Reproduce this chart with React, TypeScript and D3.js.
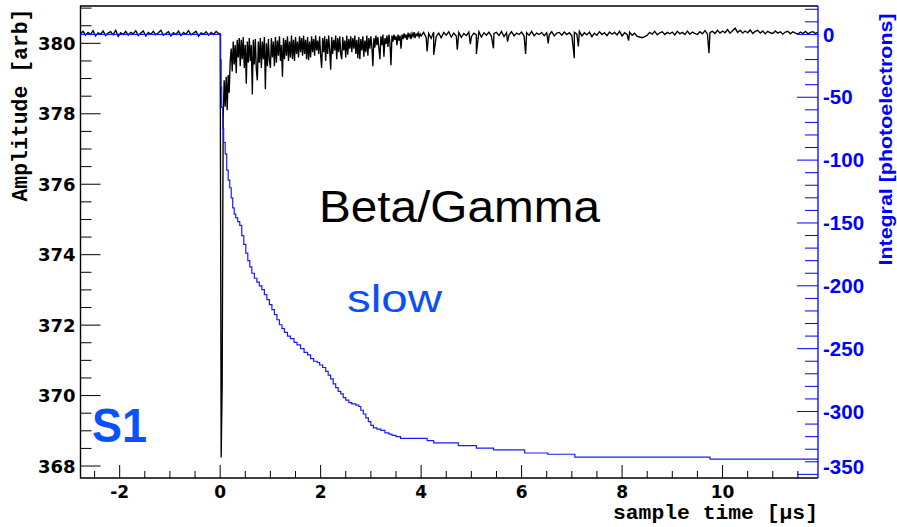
import React from 'react';
import * as d3 from 'd3';

const W = 897;
const H = 527;
const FRAME = { left: 80.5, right: 818, top: 6, bottom: 478 };

const timeDomain = [-2.78, 11.9];
const ampDomain = [367.66, 381.06];
const integralDomain = [-352.9, 22.6];

const timeTicks = [-2, 0, 2, 4, 6, 8, 10];
const ampTicks = [368, 370, 372, 374, 376, 378, 380];
const integralTicks = [-350, -300, -250, -200, -150, -100, -50, 0];

// Waveform (amplitude, arb) — pre-trigger samples, 0.05 us apart
const preT0 = -2.78;
const preDt = 0.05;
const preAmp = [
  380.28, 380.34, 380.23, 380.31, 380.25, 380.36, 380.21, 380.3, 380.26, 380.35,
  380.22, 380.29, 380.33, 380.24, 380.37, 380.2, 380.3, 380.25, 380.34, 380.23,
  380.31, 380.27, 380.36, 380.22, 380.29, 380.35, 380.21, 380.31, 380.26, 380.34,
  380.24, 380.3, 380.37, 380.23, 380.28, 380.33, 380.21, 380.3, 380.25, 380.35,
  380.22, 380.31, 380.26, 380.36, 380.24, 380.29, 380.34, 380.2, 380.3, 380.26,
  380.33, 380.23, 380.31, 380.25, 380.34, 380.28,
];

// Pulse region samples, 0.02 us apart from t = 0
const pulseT0 = 0;
const pulseDt = 0.02;
const pulseAmp = [
  380.27, 368.24, 370.3, 377.9, 378.95, 378.2, 379.05, 378.1, 379.1, 378.6,
  379.5, 379.85, 379.2, 380.05, 379.4, 379.95, 379.15, 380.1, 379.6, 380.15,
  379.35, 380.1, 379.55, 380.18, 379.3, 379.95, 378.85, 380.05, 379.45, 380.15,
  379.5, 379.95, 378.55, 380.1, 379.4, 380.12, 379.25, 378.95, 380.05, 379.45,
  380.15, 379.3, 380.05, 379.55, 380.18, 378.7, 380.0, 379.35, 380.12, 379.5,
  379.3, 380.15, 379.6, 380.05, 379.35, 380.18, 379.45, 380.08, 379.65, 380.2,
  379.5, 379.95, 379.05, 380.15, 379.55, 380.1, 379.65, 380.2, 379.5, 380.05,
  379.6, 380.22, 379.55, 380.1, 379.5, 380.18, 379.7, 380.05, 379.6, 380.2,
  379.75, 380.15, 379.65, 380.22, 379.7, 380.1, 379.55, 380.18, 379.52, 380.05,
  379.6, 380.2, 379.75, 380.12, 379.65, 380.22, 379.8, 380.08, 379.7, 380.2,
  379.65, 379.3, 380.15, 379.75, 380.2, 379.5, 380.12, 379.7, 380.22, 379.8,
  379.25, 380.18, 379.7, 380.1, 379.8, 380.22, 379.55, 380.15, 379.75, 380.2,
  379.7, 379.55, 380.18, 379.8, 380.08, 379.6, 380.22, 379.68, 380.12, 379.85,
  380.2, 379.75, 380.15, 379.85, 380.22, 379.7, 380.1, 379.58, 380.18, 379.55,
  380.12, 379.8, 380.2, 379.62, 380.08, 379.75, 380.22, 379.65, 380.15, 379.85,
  380.2, 379.9, 379.35, 380.15, 379.88, 380.22, 379.95, 380.18, 379.85, 379.55,
  380.2, 379.95, 380.25, 379.62, 380.15, 379.98, 380.22, 379.9, 380.25, 380.0,
  379.38, 380.22, 380.05, 380.25, 380.1, 380.2, 379.95, 380.25, 380.08, 380.22,
  379.85, 380.25, 380.12, 380.28, 380.15, 380.25, 380.1, 380.3, 380.18, 380.26,
  380.12, 380.28, 380.2, 380.32, 380.15, 380.26, 380.22, 380.3, 380.18, 380.27,
];

// Tail baseline samples, 0.05 us apart from t = 4
const tailT0 = 4.0;
const tailDt = 0.05;
const tailAmp = [
  380.21, 380.31, 380.17, 380.28, 380.14, 380.32, 380.19, 380.29, 380.16, 380.31,
  380.23, 380.33, 380.18, 380.29, 380.21, 380.31, 380.17, 380.28, 380.22, 380.32,
  380.19, 380.29, 380.24, 380.33, 380.18, 380.3, 380.23, 380.32, 380.2, 380.28,
  380.31, 380.22, 380.34, 380.19, 380.3, 380.24, 380.33, 380.21, 380.29, 380.25,
  380.32, 380.2, 380.3, 380.23, 380.34, 380.21, 380.29, 380.25, 380.31, 380.22,
  380.3, 380.24, 380.33, 380.21, 380.29, 380.31, 380.23, 380.32, 380.25, 380.3,
  380.22, 380.31, 380.26, 380.34, 380.21, 380.3, 380.24, 380.32, 380.19, 380.29,
  380.23, 380.33, 380.25, 380.3, 380.22, 380.32, 380.26, 380.31, 380.24, 380.34,
  380.21, 380.3, 380.25, 380.32, 380.23, 380.29, 380.2, 380.18, 380.16, 380.19,
  380.23, 380.31, 380.26, 380.34, 380.24, 380.3, 380.33, 380.25, 380.31, 380.27,
  380.32, 380.24, 380.34, 380.27, 380.31, 380.25, 380.35, 380.26, 380.32, 380.28,
  380.25, 380.33, 380.27, 380.36, 380.26, 380.31, 380.34, 380.28, 380.37, 380.29,
  380.35, 380.3, 380.39, 380.29, 380.36, 380.43, 380.31, 380.37, 380.29, 380.35,
  380.3, 380.38, 380.28, 380.34, 380.37, 380.29, 380.35, 380.27, 380.34, 380.3,
  380.28, 380.35, 380.29, 380.33, 380.26, 380.32, 380.34, 380.27, 380.33, 380.29,
  380.26, 380.32, 380.28, 380.34, 380.27, 380.31, 380.33, 380.28, 380.32,
];

// Isolated single-photoelectron spikes in the tail [time us, amplitude]
const tailSpikes: [number, number][] = [
  [4.12, 379.77], [4.25, 379.67], [4.72, 379.82], [4.98, 379.98], [5.1, 379.7],
  [5.44, 379.86], [5.72, 380.05], [6.08, 379.7], [6.53, 380.0], [7.05, 379.58],
  [7.13, 379.91], [8.13, 380.08], [9.73, 379.72],
];

// Integral (photoelectrons), step curve [time us]
const integralT = [
  -2.78, 0.0, 0.01, 0.02, 0.03, 0.05, 0.07, 0.1, 0.13, 0.16, 0.19, 0.22, 0.25, 0.28,
  0.31, 0.35, 0.39, 0.43, 0.47, 0.51, 0.55, 0.59, 0.63, 0.68, 0.73, 0.78, 0.83, 0.88,
  0.93, 0.98, 1.03, 1.08, 1.13, 1.18, 1.23, 1.28, 1.34, 1.4, 1.47, 1.53, 1.6, 1.67,
  1.74, 1.8, 1.86, 1.93, 1.98, 2.04, 2.1, 2.15, 2.2, 2.25, 2.3, 2.35, 2.4, 2.45, 2.5,
  2.56, 2.62, 2.7, 2.76, 2.8, 2.85, 2.9, 2.95, 3.0, 3.05, 3.12, 3.2, 3.28, 3.36, 3.42,
  3.5, 3.59, 4.12, 4.25, 4.74, 5.1, 5.44, 6.06, 6.52, 7.06, 9.75, 11.9,
];
const integralV = [
  0, 0, -20, -42, -58, -75, -86, -95, -108, -116, -122, -130, -138, -143,
  -146, -149, -152, -160, -167, -174, -180, -185, -190, -194, -197, -200, -203, -207,
  -211, -215, -219, -223, -227, -231, -234, -237, -240, -242, -245, -247, -250, -253,
  -255, -258, -260, -261, -263, -265, -268, -271, -274, -278, -281, -284, -286, -289, -291,
  -293, -294, -295, -296, -299, -302, -305, -308, -311, -313, -314, -315, -317, -318, -319,
  -320, -321.3, -323.2, -325, -327.1, -329.2, -330.6, -333, -334, -336.3, -337.9, -337.9,
];

const BLUE = '#0000ff';
const LABEL_BLUE = '#0a50ff';

export default function App() {
  const x = d3.scaleLinear().domain(timeDomain).range([FRAME.left, FRAME.right]);
  const yA = d3.scaleLinear().domain(ampDomain).range([FRAME.bottom, FRAME.top]);
  const yI = d3.scaleLinear().domain(integralDomain).range([FRAME.bottom, FRAME.top]);

  const wave: [number, number][] = [];
  preAmp.forEach((a, i) => wave.push([preT0 + i * preDt, a]));
  pulseAmp.forEach((a, i) => wave.push([pulseT0 + i * pulseDt, a]));
  tailAmp.forEach((a, i) => wave.push([tailT0 + i * tailDt, a]));
  tailSpikes.forEach((p) => wave.push(p));
  wave.sort((a, b) => a[0] - b[0]);

  const waveLine = d3
    .line<[number, number]>()
    .x((d) => x(d[0]))
    .y((d) => yA(d[1]));

  const integral = integralT.map((t, i) => [t, integralV[i]] as [number, number]);
  const intLine = d3
    .line<[number, number]>()
    .curve(d3.curveStepAfter)
    .x((d) => x(d[0]))
    .y((d) => yI(d[1]));

  const timeMinor = d3.range(-2.5, 11.9, 0.5).filter((v) => Math.abs(v / 2 - Math.round(v / 2)) > 1e-6);
  const ampMinor = d3.range(368, 381.06, 0.5).filter((v) => Math.abs(v / 2 - Math.round(v / 2)) > 1e-6);
  const intMinor = d3.range(-350, 22.6, 10).filter((v) => v % 50 !== 0);

  return (
    <svg
      width={W}
      height={H}
      viewBox={`0 0 ${W} ${H}`}
      style={{ position: 'absolute', left: 0, top: 0, background: '#fff' }}
    >
      <rect x={0} y={0} width={W} height={H} fill="#fff" />
      <defs>
        <clipPath id="plotClip">
          <rect x={FRAME.left} y={FRAME.top} width={FRAME.right - FRAME.left} height={FRAME.bottom - FRAME.top} />
        </clipPath>
      </defs>

      {/* frame */}
      <path
        d={`M${FRAME.right},${FRAME.top}H${FRAME.left}V${FRAME.bottom}H${FRAME.right}`}
        fill="none"
        stroke="#000"
        strokeWidth={1.4}
      />

      {/* left axis ticks */}
      {ampTicks.map((v) => (
        <line key={'la' + v} x1={FRAME.left} x2={FRAME.left + 20} y1={yA(v)} y2={yA(v)} stroke="#000" strokeWidth={1} />
      ))}
      {ampMinor.map((v) => (
        <line key={'lm' + v} x1={FRAME.left} x2={FRAME.left + 11} y1={yA(v)} y2={yA(v)} stroke="#000" strokeWidth={1} />
      ))}

      {/* bottom axis ticks */}
      {timeTicks.map((v) => (
        <line key={'ba' + v} x1={x(v)} x2={x(v)} y1={FRAME.bottom} y2={FRAME.bottom - 13} stroke="#000" strokeWidth={1} />
      ))}
      {timeMinor.map((v) => (
        <line key={'bm' + v} x1={x(v)} x2={x(v)} y1={FRAME.bottom} y2={FRAME.bottom - 7} stroke="#000" strokeWidth={1} />
      ))}

      {/* waveform */}
      <g clipPath="url(#plotClip)">
        <path d={waveLine(wave) || ''} fill="none" stroke="#000" strokeWidth={1.35} strokeLinejoin="miter" />
        <path d={intLine(integral) || ''} fill="none" stroke="#1a1aff" strokeWidth={1.2} />
      </g>

      {/* right axis */}
      <line x1={FRAME.right} x2={FRAME.right} y1={FRAME.top} y2={FRAME.bottom} stroke={BLUE} strokeWidth={1.3} />
      {integralTicks.map((v) => (
        <line key={'ra' + v} x1={FRAME.right} x2={FRAME.right - 21} y1={yI(v)} y2={yI(v)} stroke={BLUE} strokeWidth={1} />
      ))}
      {intMinor.map((v) => (
        <line key={'rm' + v} x1={FRAME.right} x2={FRAME.right - 13} y1={yI(v)} y2={yI(v)} stroke={BLUE} strokeWidth={1} />
      ))}

      {/* tick labels */}
      {ampTicks.map((v) => (
        <text
          key={'lt' + v}
          x={75.5}
          y={yA(v) + 6.6}
          textAnchor="end"
          fontFamily="DejaVu Sans"
          fontWeight="bold"
          fontSize={18}
          fill="#000"
        >
          {v}
        </text>
      ))}
      {timeTicks.map((v) => (
        <text
          key={'bt' + v}
          x={x(v)}
          y={497.5}
          textAnchor="middle"
          fontFamily="DejaVu Sans"
          fontWeight="bold"
          fontSize={17}
          fill="#000"
        >
          {v}
        </text>
      ))}
      {integralTicks.map((v) => (
        <text
          key={'rt' + v}
          x={823}
          y={Math.min(yI(v), FRAME.bottom - 11) + 7.2}
          textAnchor="start"
          fontFamily="Liberation Sans"
          fontWeight="bold"
          fontSize={20.5}
          fill={BLUE}
        >
          {v}
        </text>
      ))}

      {/* axis titles */}
      <text
        transform="translate(27,8.5) rotate(-90)"
        textAnchor="end"
        fontFamily="Liberation Mono"
        fontWeight="bold"
        fontSize={21.5}
        fill="#000"
        textLength={193}
        lengthAdjust="spacingAndGlyphs"
      >
        Amplitude [arb]
      </text>
      <text
        x={818}
        y={519}
        textAnchor="end"
        fontFamily="Liberation Mono"
        fontWeight="bold"
        fontSize={20.5}
        fill="#000"
        textLength={205}
        lengthAdjust="spacingAndGlyphs"
      >
        sample time [μs]
      </text>
      <text
        transform="translate(892,13.5) rotate(-90)"
        textAnchor="end"
        fontFamily="Liberation Sans"
        fontWeight="bold"
        fontSize={18.5}
        fill={BLUE}
        textLength={252}
        lengthAdjust="spacingAndGlyphs"
      >
        Integral [photoelectrons]
      </text>

      {/* annotations */}
      <text
        x={319}
        y={221.7}
        fontFamily="Liberation Sans"
        fontSize={44}
        fill="#000"
        textLength={281}
        lengthAdjust="spacingAndGlyphs"
      >
        Beta/Gamma
      </text>
      <text
        x={347}
        y={311.7}
        fontFamily="Liberation Sans"
        fontSize={39}
        fill={LABEL_BLUE}
        textLength={95}
        lengthAdjust="spacingAndGlyphs"
      >
        slow
      </text>
      <text
        x={92}
        y={442.3}
        fontFamily="Liberation Sans"
        fontWeight="bold"
        fontSize={49}
        fill={LABEL_BLUE}
        textLength={55}
        lengthAdjust="spacingAndGlyphs"
      >
        S1
      </text>
    </svg>
  );
}
